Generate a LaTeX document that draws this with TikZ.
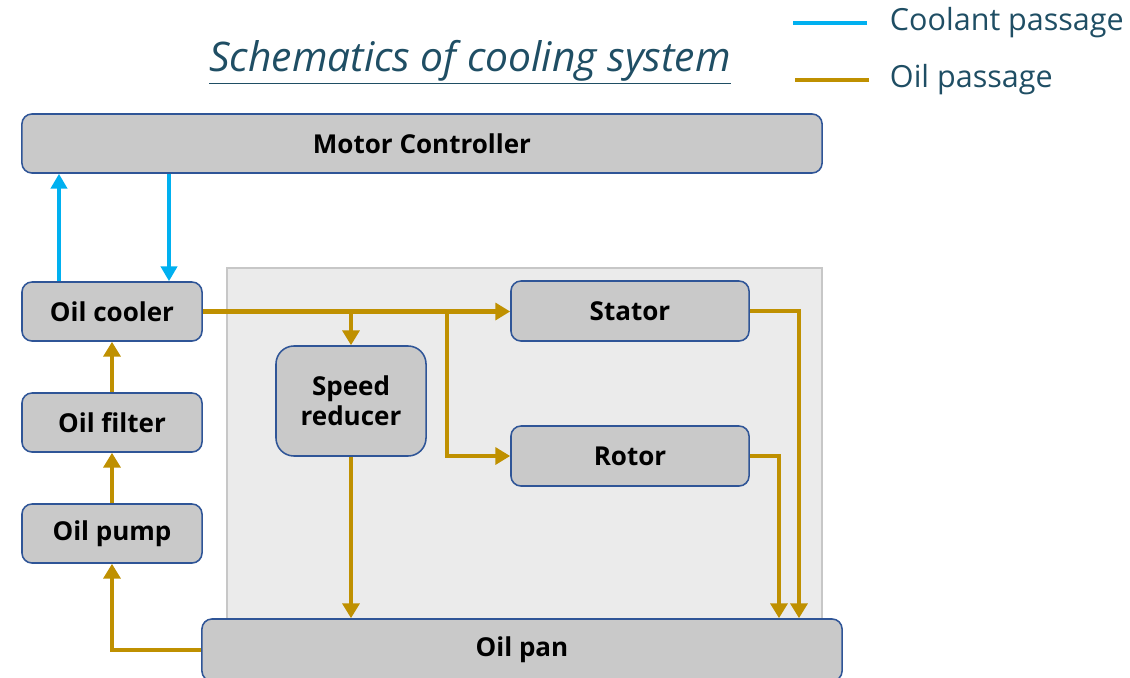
\documentclass[tikz,border=0pt]{standalone}
\usepackage{fontspec}
\setmainfont{Open Sans}
\usepackage{tikz}
\usetikzlibrary{positioning,arrows.meta}
\usepackage{xcolor}
\definecolor{coolblue}{HTML}{00B0F0}
\definecolor{oilgold}{HTML}{BF9000}
\definecolor{boxgray}{HTML}{C9C9C9}
\definecolor{boxedge}{HTML}{2F5597}
\definecolor{titleblue}{HTML}{1F4E64}

\begin{document}
\begin{tikzpicture}[
  x=0.025cm, y=-0.025cm,
  font=\fontsize{18.5}{21.5}\selectfont\bfseries,
  box/.style={draw=boxedge, line width=1.1pt, fill=boxgray, rounded corners=0.25cm, minimum width=4.5cm, minimum height=1.475cm, align=center},
  cool/.style={draw=coolblue, line width=2.8pt, -{Triangle[length=0.37cm, width=0.4cm]}},
  oil/.style={draw=oilgold, line width=3.1pt, -{Triangle[length=0.37cm, width=0.42cm]}},
  legtext/.style={font=\fontsize{21.7}{26}\selectfont, text=titleblue, anchor=west}
]
\useasboundingbox (0,0) rectangle (1130,677);
% housing of motor
\filldraw[fill=black!8, draw=black!22, line width=1pt] (227,268) rectangle (822,619);

\node[font=\fontsize{29}{34}\selectfont\itshape, text=titleblue] (title) at (470,62) {\underline{Schematics of cooling system}};
\node[legtext] (lcool) at (885,23) {Coolant passage};
\node[legtext] (loil) at (885,80) {Oil passage};
\draw[coolblue, line width=2.8pt] ([xshift=-0.45cm]lcool.west) -- ++(-1.85cm,0);
\draw[oilgold, line width=3.1pt] ([xshift=-0.4cm]loil.west) -- ++(-1.85cm,0);

\node[box, minimum width=20cm] (mc) at (422,143.5) {Motor Controller};
\node[box] (cooler) at (112,311.5) {Oil cooler};
\node[box] (filter) at (112,422.5) {Oil filter};
\node[box] (pump) at (112,533.5) {Oil pump};
\node[box, minimum width=16cm, minimum height=1.55cm] (pan) at (522,650) {Oil pan};
\node[box, minimum width=3.75cm, minimum height=2.75cm, rounded corners=0.45cm] (reducer) at (351,401) {Speed\\reducer};
\node[box, minimum width=5.95cm, minimum height=1.5cm] (stator) at (630,311) {Stator};
\node[box, minimum width=5.95cm, minimum height=1.5cm] (rotor) at (630,456) {Rotor};

\coordinate (split) at (447,311.5);
\coordinate (statordrop) at (799,0);
\coordinate (rotordrop) at (779,0);

% coolant loop
\draw[cool] ([xshift=-1.325cm]cooler.north) -- ([xshift=-1.325cm]cooler.north |- mc.south);
\draw[cool] ([xshift=1.425cm]cooler.north |- mc.south) -- ([xshift=1.425cm]cooler.north);

% oil loop
\draw[oil] (cooler.east) -- (cooler.east -| stator.west);
\draw[oil] (cooler.east -| reducer.north) -- (reducer.north);
\draw[oil] (split) |- (rotor.west);
\draw[oil] (stator.east) -| (statordrop |- pan.north);
\draw[oil] (rotor.east) -| (rotordrop |- pan.north);
\draw[oil] (reducer.south) -- (reducer.south |- pan.north);
\draw[oil] (pan.west) -| (pump.south);
\draw[oil] (pump.north) -- (filter.south);
\draw[oil] (filter.north) -- (cooler.south);
\end{tikzpicture}
\end{document}
